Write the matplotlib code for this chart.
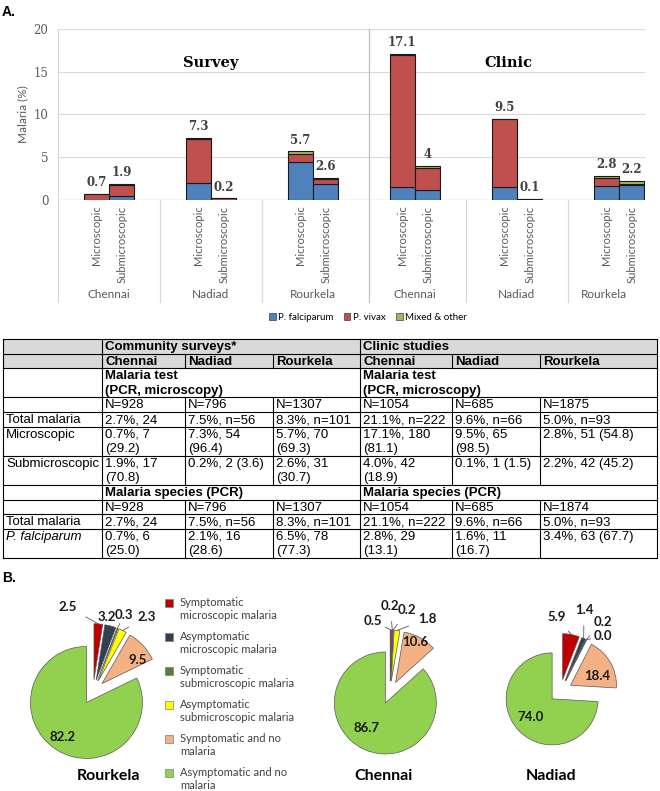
import numpy as np
import matplotlib
matplotlib.use("Agg")
import matplotlib.pyplot as plt
from matplotlib.patches import Rectangle, Patch
from matplotlib.transforms import blended_transform_factory

# ---------------- panel A data ----------------
groups = ["Chennai", "Nadiad", "Rourkela", "Chennai", "Nadiad", "Rourkela"]
bar_kinds = ["Microscopic", "Submicroscopic"]
# bars in order: group1 micro, group1 sub, group2 micro, ...
falciparum = [0.0, 0.5, 2.0, 0.0, 4.4, 1.9, 1.5, 1.2, 1.5, 0.0, 1.6, 1.7]
vivax = [0.7, 1.3, 5.1, 0.2, 1.0, 0.5, 15.5, 2.5, 8.0, 0.1, 1.0, 0.2]
mixed = [0.0, 0.1, 0.2, 0.0, 0.3, 0.2, 0.1, 0.3, 0.0, 0.0, 0.2, 0.3]
totals = [0.7, 1.9, 7.3, 0.2, 5.7, 2.6, 17.1, 4.0, 9.5, 0.1, 2.8, 2.2]
series_names = ["P. falciparum", "P. vivax", "Mixed & other"]
series_colors = ["#4F81BD", "#C0504D", "#9BBB59"]

# ---------------- table data ----------------
row_labels = ["", "", "", "", "Total malaria", "Microscopic", "Submicroscopic",
              "", "", "Total malaria", "P. falciparum"]
row_nlines = [1, 1, 2, 1, 1, 2, 2, 1, 1, 1, 2]
study_headers = ["Community surveys*", "Clinic studies"]
city_headers = ["Chennai", "Nadiad", "Rourkela", "Chennai", "Nadiad", "Rourkela"]
test_header = "Malaria test\n(PCR, microscopy)"
species_header = "Malaria species (PCR)"
n_test = ["N=928", "N=796", "N=1307", "N=1054", "N=685", "N=1875"]
total_test = ["2.7%, 24", "7.5%, n=56", "8.3%, n=101", "21.1%, n=222", "9.6%, n=66", "5.0%, n=93"]
micro_row = ["0.7%, 7\n(29.2)", "7.3%, 54\n(96.4)", "5.7%, 70\n(69.3)",
             "17.1%, 180\n(81.1)", "9.5%, 65\n(98.5)", "2.8%, 51 (54.8)"]
submicro_row = ["1.9%, 17\n(70.8)", "0.2%, 2 (3.6)", "2.6%, 31\n(30.7)",
                "4.0%, 42\n(18.9)", "0.1%, 1 (1.5)", "2.2%, 42 (45.2)"]
n_species = ["N=928", "N=796", "N=1307", "N=1054", "N=685", "N=1874"]
total_species = ["2.7%, 24", "7.5%, n=56", "8.3%, n=101", "21.1%, n=222", "9.6%, n=66", "5.0%, n=93"]
pf_row = ["0.7%, 6\n(25.0)", "2.1%, 16\n(28.6)", "6.5%, 78\n(77.3)",
          "2.8%, 29\n(13.1)", "1.6%, 11\n(16.7)", "3.4%, 63 (67.7)"]

# ---------------- panel B data ----------------
pie_categories = ["Symptomatic\nmicroscopic malaria", "Asymptomatic\nmicroscopic malaria",
                  "Symptomatic\nsubmicroscopic malaria", "Asymptomatic\nsubmicroscopic malaria",
                  "Symptomatic and no\nmalaria", "Asymptomatic and no\nmalaria"]
pie_colors = ["#C00000", "#323F4F", "#548235", "#FFFF00", "#F4B183", "#92D050"]
rourkela = [2.5, 3.2, 0.3, 2.3, 9.5, 82.2]
chennai = [0.5, 0.2, 0.2, 1.8, 10.6, 86.7]
nadiad = [5.9, 1.4, 0.2, 0.0, 18.4, 74.0]

W, H = 660, 791
fig = plt.figure(figsize=(W / 100, H / 100), dpi=100)

def fx(px):
    return px / W

def fy(py):
    return 1 - py / H

# overlay axes in pixel coordinates for table and free text
ov = fig.add_axes([0, 0, 1, 1])
ov.set_xlim(0, W)
ov.set_ylim(H, 0)
ov.axis("off")

# ---------------- panel A ----------------
top_px, base_px, left_px, right_px = 29, 200, 58, 645
ax = fig.add_axes([fx(left_px), fy(base_px), fx(right_px - left_px), (base_px - top_px) / H])
ax.set_ylim(0, 20)
ax.set_xlim(-0.5, 5.255)

xpos = []
for g in range(len(groups)):
    xpos += [g - 0.125, g + 0.125]
xpos = np.array(xpos)
bottom = np.zeros(len(xpos))
for vals, name, col in zip([falciparum, vivax, mixed], series_names, series_colors):
    ax.bar(xpos, vals, 0.245, bottom=bottom, color=col, edgecolor="#1a1a1a",
           linewidth=0.8, label=name, zorder=3)
    bottom += np.array(vals)
for x, t in zip(xpos, totals):
    ax.text(x, t + 0.55, f"{t:g}", ha="center", va="bottom", fontsize=8.5,
            fontweight="bold", family="DejaVu Serif", color="#404040")

ax.set_yticks([0, 5, 10, 15, 20])
ax.tick_params(axis="y", length=0, labelsize=8.5, labelcolor="#595959", pad=7)
for lab in ax.get_yticklabels():
    lab.set_family("DejaVu Serif")
ax.yaxis.grid(True, color="#D9D9D9", linewidth=0.8, zorder=0)
ax.set_axisbelow(True)
for s in ax.spines.values():
    s.set_visible(False)
ax.axhline(0, color="#BFBFBF", linewidth=0.9, zorder=2)
ax.set_ylabel("Malaria (%)", fontsize=8.5, color="#595959", family="Lato")
ax.yaxis.set_label_coords((28 - left_px) / (right_px - left_px), 0.5)

ax.set_xticks(xpos)
ax.set_xticklabels(bar_kinds * len(groups), rotation=90, fontsize=8, color="#595959",
                   family="Lato")
ax.tick_params(axis="x", length=0, pad=4)

below = (base_px - 302) / (base_px - top_px)
for b in [-0.5, 0.5, 1.5, 3.5, 4.5]:
    ax.axvline(b, ymin=below, ymax=1 if b == -0.5 else 0, color="#D9D9D9",
               linewidth=0.9, clip_on=False)
ax.axvline(2.55, ymin=below, ymax=1, color="#BFBFBF", linewidth=0.9, clip_on=False)

tr = blended_transform_factory(ax.transData, ax.transAxes)
glab_y = (base_px - 295) / (base_px - top_px)
for g, name in enumerate(groups):
    gx = g if g < 5 else 4.85
    ax.text(gx, glab_y, name, transform=tr, ha="center", va="center", fontsize=8.5,
            color="#595959", family="Lato")

ax.text(1.0, 16, "Survey", ha="center", va="center", fontsize=10.5, fontweight="bold",
        family="DejaVu Serif")
ax.text(3.92, 16, "Clinic", ha="center", va="center", fontsize=10.5, fontweight="bold",
        family="DejaVu Serif")

handles = [Patch(facecolor=c, edgecolor="#404040", linewidth=0.5) for c in series_colors]
fig.legend(handles, series_names, loc="center", bbox_to_anchor=(fx(368), fy(317)),
           ncol=3, frameon=False, handlelength=0.7, handleheight=0.7,
           handletextpad=0.3, columnspacing=1.0, prop={"family": "Lato", "size": 7})

ov.text(2, 12, "A.", fontsize=10, fontweight="bold", va="center", family="Liberation Sans")

# ---------------- table ----------------
cols = [3, 102, 185, 273, 360, 452, 540, 657]
line_h = 14.6
tab_top = 339
row_y = [tab_top]
for n in row_nlines:
    row_y.append(row_y[-1] + n * line_h)

for r in (0, 1):
    ov.add_patch(Rectangle((cols[0], row_y[r]), cols[-1] - cols[0], row_y[r + 1] - row_y[r],
                           facecolor="#D9D9D9", edgecolor="none"))
for y in row_y:
    ov.plot([cols[0], cols[-1]], [y, y], color="black", linewidth=0.8)
spanned = (0, 2, 7)
for r in range(len(row_nlines)):
    for i, x in enumerate(cols):
        if i in (2, 3, 5, 6) and r in spanned:
            continue
        ov.plot([x, x], [row_y[r], row_y[r + 1]], color="black", linewidth=0.8)

def cell(r, c, s, **kw):
    for k, line in enumerate(s.split("\n")):
        ov.text(cols[c] + 3, row_y[r] + (k + 0.55) * line_h, line, family="Liberation Sans",
                fontsize=9.5, va="center", **kw)

for r, lab in enumerate(row_labels):
    if lab:
        cell(r, 0, lab, style="italic" if lab.startswith("P.") else "normal")
cell(0, 1, study_headers[0], fontweight="bold")
cell(0, 4, study_headers[1], fontweight="bold")
for c, s in enumerate(city_headers):
    cell(1, c + 1, s, fontweight="bold")
cell(2, 1, test_header, fontweight="bold")
cell(2, 4, test_header, fontweight="bold")
cell(7, 1, species_header, fontweight="bold")
cell(7, 4, species_header, fontweight="bold")
for r, row in [(3, n_test), (4, total_test), (5, micro_row), (6, submicro_row),
               (8, n_species), (9, total_species), (10, pf_row)]:
    for c, s in enumerate(row):
        cell(r, c + 1, s)

# ---------------- panel B ----------------
ov.text(2, 578, "B.", fontsize=10, fontweight="bold", va="center", family="Liberation Sans")

def draw_pie(vals, cx, cy, rpx, explode, label_pos, city, city_x):
    lim = 2.2
    pax = fig.add_axes([fx(cx - lim * rpx), fy(cy + lim * rpx), 2 * lim * rpx / W, 2 * lim * rpx / H])
    wedges, _ = pax.pie(vals, colors=pie_colors, startangle=90, counterclock=False,
                        explode=[explode] * len(vals),
                        wedgeprops=dict(edgecolor="#595959", linewidth=0.5))
    pax.set_xlim(-lim, lim)
    pax.set_ylim(-lim, lim)
    for i, (w, v) in enumerate(zip(wedges, vals)):
        mid = np.deg2rad((w.theta1 + w.theta2) / 2)
        ox = w.center[0] + w.r * np.cos(mid)
        oy = w.center[1] + w.r * np.sin(mid)
        lx, ly = label_pos[i]
        if i < 4:
            pax.annotate(f"{v:.1f}", xy=(ox, oy), xytext=(lx, ly), ha="center", va="center",
                         fontsize=9.5, fontweight="bold", family="Lato", color="#1a1a1a",
                         arrowprops=dict(arrowstyle="-", color="#595959", lw=0.6,
                                         shrinkA=5, shrinkB=0))
        else:
            pax.text(lx, ly, f"{v:.1f}", ha="center", va="center", fontsize=9.5,
                     fontweight="bold", family="Lato", color="#1a1a1a")
    ov.text(city_x, 776, city, ha="center", va="center", fontsize=11.5,
            fontweight="bold", family="Lato")

draw_pie(rourkela, 93, 692, 56, 0.22,
         [(-0.45, 1.52), (0.25, 1.34), (0.55, 1.38), (0.96, 1.34), (0.79, 0.57), (-0.54, -0.8)],
         "Rourkela", 108)
draw_pie(chennai, 390, 692.5, 51, 0.225,
         [(-0.33, 1.4), (0.0, 1.7), (0.34, 1.62), (0.73, 1.44), (0.5, 0.99), (-0.45, -0.69)],
         "Chennai", 384)
draw_pie(nadiad, 560.5, 691, 46, 0.25,
         [(-0.08, 1.61), (0.51, 1.76), (0.92, 1.5), (0.92, 1.2), (0.79, 0.33), (-0.66, -0.57)],
         "Nadiad", 551)

for i, (name, col) in enumerate(zip(pie_categories, pie_colors)):
    y0 = 603 + i * 34
    ov.add_patch(Rectangle((165, y0 - 4), 8, 8, facecolor=col, edgecolor="#7F7F7F", linewidth=0.5))
    ov.text(180, y0 - 6, name, fontsize=8, va="top", family="Lato", color="#404040",
            linespacing=1.25)

fig.savefig("out.png", dpi=100)
